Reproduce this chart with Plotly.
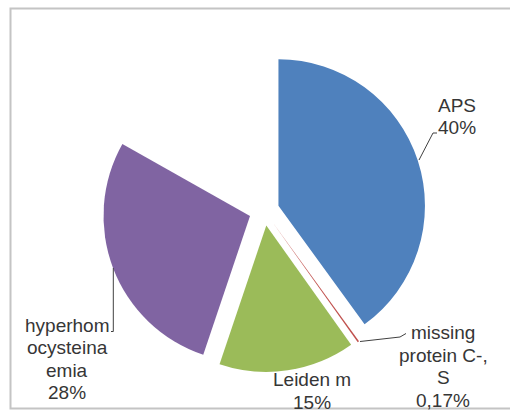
import plotly.graph_objects as go

# Causes of thrombophilia, share of cases (%)
categories = ["APS", "missing<br>protein C-,<br>S", "Leiden m", "hyperhom<br>ocysteina<br>emia"]
shares = [40, 0.17, 15, 28]
colors = ["#4F81BD", "#C0504D", "#9BBB59", "#8064A2"]

# The remainder of the circle is left blank (no label, no fill)
remainder = round(100 - sum(shares), 2)

W, H = 510, 412


def px(x):
    return x / W


def py(y):
    return 1 - y / H


def pct_text(v):
    return f"{v:g}".replace(".", ",") + "%"


fig = go.Figure()
fig.add_trace(go.Pie(
    labels=[c.replace("<br>", " ") for c in categories] + ["blank"],
    values=shares + [remainder],
    sort=False,
    direction="clockwise",
    rotation=0,
    pull=[0.103] * len(shares) + [0],
    marker=dict(colors=colors + ["rgba(0,0,0,0)"], line=dict(width=0)),
    textinfo="none",
    hoverinfo="skip",
    showlegend=False,
    domain=dict(x=[px(102.5), px(425.7)], y=[py(372.1), py(48.9)]),
))

# Data labels placed outside the pie, one annotation per text line
# so the line spacing stays tight
label_pos = [(457, 116.5), (443, 366.5), (312, 391), (67, 359)]
line_step = 22.6
txt_font = dict(family="Liberation Sans, Arial", size=19, color="#363636")
for cat, val, (lx, ly) in zip(categories, shares, label_pos):
    lines = cat.split("<br>") + [pct_text(val)]
    n = len(lines)
    for i, s in enumerate(lines):
        yy = ly + (i - (n - 1) / 2) * line_step
        fig.add_annotation(
            x=px(lx), y=py(yy), xref="paper", yref="paper",
            text=s, showarrow=False, xanchor="center", yanchor="middle",
            font=txt_font,
        )

# Leader lines from slices to their labels
leaders = [
    [(419, 160), (433, 133), (437, 133)],
    [(360, 341.5), (400, 337), (406, 333.5)],
    [(113.3, 268), (113.3, 331.5), (111, 331.5)],
]
for pts in leaders:
    path = "M " + " L ".join(f"{px(x)},{py(y)}" for x, y in pts)
    fig.add_shape(type="path", path=path, xref="paper", yref="paper",
                  line=dict(color="#404040", width=1))

# Chart area frame
fig.add_shape(type="rect", xref="paper", yref="paper",
              x0=px(10.5), y0=py(408.5), x1=px(520), y1=py(8.5),
              line=dict(color="#c4c4c4", width=2), fillcolor="rgba(0,0,0,0)")

fig.update_layout(
    width=W, height=H,
    margin=dict(l=0, r=0, t=0, b=0),
    paper_bgcolor="white",
    plot_bgcolor="white",
)

fig.write_html("out.html")
